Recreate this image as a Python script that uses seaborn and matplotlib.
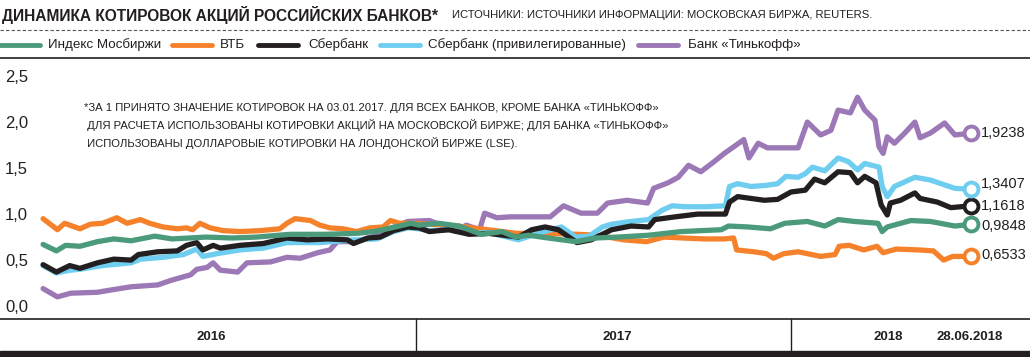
import matplotlib
matplotlib.use("Agg")
import matplotlib.pyplot as plt
import matplotlib.transforms as mtransforms
from matplotlib.lines import Line2D
from matplotlib.patches import Rectangle
import pandas as pd
import seaborn as sns

# --- data ---
mx_dates = ["2016-01-04", "2016-01-17", "2016-01-26", "2016-02-09", "2016-02-26", "2016-03-13", "2016-03-30",
            "2016-04-22", "2016-05-09", "2016-05-26", "2016-06-11", "2016-07-07", "2016-07-30", "2016-09-01",
            "2016-10-04", "2016-11-05", "2016-11-22", "2016-12-09", "2016-12-28", "2017-01-05", "2017-01-24",
            "2017-02-13", "2017-03-07", "2017-03-27", "2017-04-09", "2017-04-22", "2017-05-11", "2017-06-07",
            "2017-06-26", "2017-07-18", "2017-08-17", "2017-09-18", "2017-10-27", "2017-11-03", "2017-11-22",
            "2017-12-14", "2017-12-28", "2018-01-19", "2018-02-05", "2018-02-18", "2018-03-06", "2018-03-29",
            "2018-04-02", "2018-04-07", "2018-04-30", "2018-05-19", "2018-06-12", "2018-06-28"]
mx = [0.68, 0.61, 0.67, 0.66, 0.71, 0.74, 0.72, 0.77, 0.74, 0.75, 0.76, 0.75, 0.76, 0.79, 0.79, 0.80, 0.82,
      0.86, 0.91, 0.89, 0.91, 0.88, 0.79, 0.82, 0.76, 0.78, 0.75, 0.71, 0.75, 0.76, 0.78, 0.82, 0.84, 0.88,
      0.87, 0.85, 0.91, 0.93, 0.88, 0.95, 0.93, 0.91, 0.82, 0.87, 0.94, 0.93, 0.88, 0.90]

vtb_dates = ["2016-01-04", "2016-01-18", "2016-01-25", "2016-02-09", "2016-02-19", "2016-03-02", "2016-03-16",
             "2016-03-26", "2016-04-08", "2016-04-17", "2016-04-30", "2016-05-14", "2016-05-23", "2016-05-29",
             "2016-06-05", "2016-06-15", "2016-06-28", "2016-07-14", "2016-08-03", "2016-08-22", "2016-08-29",
             "2016-09-06", "2016-09-21", "2016-09-30", "2016-10-10", "2016-10-23", "2016-11-05", "2016-11-18",
             "2016-12-01", "2016-12-08", "2016-12-17", "2016-12-30", "2017-01-15", "2017-02-12", "2017-03-13",
             "2017-04-11", "2017-05-10", "2017-06-09", "2017-06-28", "2017-07-24", "2017-08-15", "2017-09-01",
             "2017-09-20", "2017-10-10", "2017-10-30", "2017-11-08", "2017-11-11", "2017-11-28", "2017-12-10",
             "2017-12-17", "2017-12-27", "2018-01-10", "2018-01-19", "2018-02-01", "2018-02-15", "2018-02-19",
             "2018-03-01", "2018-03-15", "2018-03-28", "2018-04-03", "2018-04-16", "2018-05-08", "2018-05-22",
             "2018-06-01", "2018-06-10", "2018-06-28"]
vtb = [0.96, 0.84, 0.91, 0.85, 0.90, 0.91, 0.97, 0.91, 0.95, 0.91, 0.87, 0.85, 0.86, 0.84, 0.91, 0.86, 0.83,
       0.82, 0.83, 0.85, 0.91, 0.96, 0.94, 0.89, 0.86, 0.85, 0.82, 0.86, 0.87, 0.94, 0.91, 0.91, 0.90, 0.88,
       0.84, 0.80, 0.80, 0.79, 0.78, 0.73, 0.71, 0.76, 0.75, 0.74, 0.74, 0.75, 0.62, 0.60, 0.58, 0.53, 0.58,
       0.60, 0.58, 0.55, 0.57, 0.66, 0.67, 0.62, 0.66, 0.59, 0.63, 0.62, 0.61, 0.51, 0.55, 0.55]

sber_dates = ["2016-01-04", "2016-01-17", "2016-01-30", "2016-02-09", "2016-02-26", "2016-03-13", "2016-03-30",
              "2016-04-06", "2016-04-25", "2016-05-14", "2016-05-23", "2016-06-02", "2016-06-08", "2016-06-18",
              "2016-06-25", "2016-07-14", "2016-08-06", "2016-08-29", "2016-09-18", "2016-10-08", "2016-10-27",
              "2016-11-02", "2016-11-16", "2016-11-28", "2016-12-11", "2016-12-25", "2017-01-05", "2017-01-15",
              "2017-02-03", "2017-02-23", "2017-03-14", "2017-04-12", "2017-04-25", "2017-05-08", "2017-05-21",
              "2017-06-08", "2017-06-22", "2017-07-12", "2017-07-31", "2017-08-17", "2017-08-23", "2017-09-12",
              "2017-10-04", "2017-10-31", "2017-11-04", "2017-11-12", "2017-11-25", "2017-12-08", "2017-12-21",
              "2018-01-03", "2018-01-17", "2018-01-26", "2018-02-05", "2018-02-18", "2018-03-02", "2018-03-09",
              "2018-03-16", "2018-03-27", "2018-04-01", "2018-04-07", "2018-04-10", "2018-04-20", "2018-05-04",
              "2018-05-09", "2018-05-26", "2018-06-08", "2018-06-28"]
sber = [0.46, 0.38, 0.45, 0.42, 0.48, 0.52, 0.51, 0.57, 0.60, 0.61, 0.67, 0.70, 0.62, 0.67, 0.64, 0.67, 0.69,
        0.75, 0.73, 0.74, 0.73, 0.69, 0.75, 0.76, 0.83, 0.87, 0.86, 0.82, 0.84, 0.79, 0.80, 0.76, 0.84, 0.87,
        0.84, 0.70, 0.73, 0.84, 0.88, 0.87, 0.95, 0.98, 1.01, 1.01, 1.14, 1.20, 1.18, 1.16, 1.17, 1.25, 1.27,
        1.39, 1.35, 1.47, 1.46, 1.35, 1.42, 1.35, 1.11, 1.00, 1.13, 1.16, 1.24, 1.18, 1.14, 1.08, 1.10]

pref_dates = ["2016-01-04", "2016-01-17", "2016-01-30", "2016-02-09", "2016-03-02", "2016-03-30", "2016-04-08",
              "2016-04-30", "2016-05-20", "2016-06-02", "2016-06-08", "2016-06-22", "2016-07-14", "2016-08-06",
              "2016-08-29", "2016-09-30", "2016-11-02", "2016-11-25", "2016-12-11", "2016-12-25", "2017-01-05",
              "2017-01-15", "2017-02-03", "2017-02-23", "2017-03-14", "2017-04-12", "2017-05-01", "2017-05-24",
              "2017-06-07", "2017-06-20", "2017-07-03", "2017-07-12", "2017-07-31", "2017-08-17", "2017-08-30",
              "2017-09-09", "2017-09-22", "2017-10-12", "2017-10-31", "2017-11-04", "2017-11-12", "2017-11-25",
              "2017-12-08", "2017-12-21", "2017-12-29", "2018-01-10", "2018-01-17", "2018-01-24", "2018-02-05",
              "2018-02-18", "2018-02-28", "2018-03-09", "2018-03-16", "2018-03-30", "2018-04-02", "2018-04-07",
              "2018-04-14", "2018-05-04", "2018-05-19", "2018-06-12", "2018-06-28"]
pref = [0.45, 0.37, 0.40, 0.41, 0.45, 0.48, 0.52, 0.54, 0.57, 0.63, 0.55, 0.58, 0.62, 0.64, 0.70, 0.70, 0.73,
        0.74, 0.82, 0.86, 0.85, 0.83, 0.84, 0.80, 0.81, 0.73, 0.80, 0.87, 0.76, 0.77, 0.87, 0.90, 0.93, 0.95,
        1.05, 1.10, 1.09, 1.09, 1.10, 1.31, 1.34, 1.31, 1.32, 1.34, 1.42, 1.41, 1.45, 1.52, 1.48, 1.62, 1.58,
        1.49, 1.56, 1.52, 1.31, 1.20, 1.31, 1.41, 1.38, 1.29, 1.28]

tcs_dates = ["2016-01-04", "2016-01-18", "2016-01-31", "2016-02-26", "2016-03-13", "2016-03-30", "2016-04-25",
             "2016-05-08", "2016-05-27", "2016-06-02", "2016-06-12", "2016-06-18", "2016-06-25", "2016-07-12",
             "2016-07-21", "2016-08-13", "2016-08-29", "2016-09-11", "2016-09-28", "2016-10-10", "2016-10-17",
             "2016-11-02", "2016-11-18", "2016-12-05", "2016-12-25", "2017-01-15", "2017-01-27", "2017-02-10",
             "2017-02-20", "2017-03-05", "2017-03-10", "2017-03-22", "2017-04-04", "2017-05-13", "2017-05-26",
             "2017-06-12", "2017-06-28", "2017-07-08", "2017-07-27", "2017-08-16", "2017-08-22", "2017-09-05",
             "2017-09-15", "2017-09-25", "2017-10-07", "2017-10-20", "2017-10-30", "2017-11-08", "2017-11-18",
             "2017-11-23", "2017-12-02", "2017-12-11", "2017-12-24", "2018-01-10", "2018-01-19", "2018-02-01",
             "2018-02-11", "2018-02-18", "2018-03-02", "2018-03-09", "2018-03-16", "2018-03-26", "2018-03-30",
             "2018-04-03", "2018-04-07", "2018-04-14", "2018-04-24", "2018-05-04", "2018-05-09", "2018-05-19",
             "2018-06-02", "2018-06-12", "2018-06-28"]
tcs = [0.20, 0.11, 0.15, 0.16, 0.19, 0.22, 0.24, 0.29, 0.35, 0.41, 0.43, 0.48, 0.40, 0.38, 0.48, 0.49, 0.54,
       0.53, 0.59, 0.62, 0.71, 0.71, 0.75, 0.84, 0.93, 0.94, 0.89, 0.82, 0.89, 0.84, 1.02, 0.97, 0.98, 0.98,
       1.10, 1.02, 1.02, 1.13, 1.16, 1.13, 1.29, 1.35, 1.41, 1.54, 1.47, 1.58, 1.67, 1.74, 1.82, 1.62, 1.78,
       1.73, 1.73, 1.73, 2.01, 1.87, 1.92, 2.14, 2.11, 2.28, 2.14, 2.03, 1.74, 1.67, 1.85, 1.78, 1.89, 2.01,
       1.84, 1.89, 2.00, 1.87, 1.89]

names = ["Индекс Мосбиржи", "ВТБ", "Сбербанк", "Сбербанк (привилегированные)", "Банк «Тинькофф»"]
colors = ["#4a9a7b", "#f5822a", "#231f20", "#6fcdf0", "#9c78b6"]
end_labels = ["0,9848", "0,6533", "1,1618", "1,3407", "1,9238"]
label_shift = [-0.02, 0.02, 0.0, 0.06, 0.0]
ytick_vals = [0.0, 0.5, 1.0, 1.5, 2.0, 2.5]
ytick_labels = ["0,0", "0,5", "1,0", "1,5", "2,0", "2,5"]
year_labels = ["2016", "2017", "2018", "28.06.2018"]

title = "ДИНАМИКА КОТИРОВОК АКЦИЙ РОССИЙСКИХ БАНКОВ*"
source = "ИСТОЧНИКИ: ИСТОЧНИКИ ИНФОРМАЦИИ: МОСКОВСКАЯ БИРЖА, REUTERS."
note = ["*ЗА 1 ПРИНЯТО ЗНАЧЕНИЕ КОТИРОВОК НА 03.01.2017. ДЛЯ ВСЕХ БАНКОВ, КРОМЕ БАНКА «ТИНЬКОФФ»",
        " ДЛЯ РАСЧЕТА ИСПОЛЬЗОВАНЫ КОТИРОВКИ АКЦИЙ НА МОСКОВСКОЙ БИРЖЕ; ДЛЯ БАНКА «ТИНЬКОФФ»",
        " ИСПОЛЬЗОВАНЫ ДОЛЛАРОВЫЕ КОТИРОВКИ НА ЛОНДОНСКОЙ БИРЖЕ (LSE)."]

series = [(mx_dates, mx), (vtb_dates, vtb), (sber_dates, sber), (pref_dates, pref), (tcs_dates, tcs)]
frames = []
for name, (d, v) in zip(names, series):
    frames.append(pd.DataFrame({"date": pd.to_datetime(d), "value": v, "series": name}))
df = pd.concat(frames, ignore_index=True)

sns.set_style("white")
plt.rcParams["font.family"] = ["Liberation Sans Narrow", "Liberation Sans", "DejaVu Sans"]
TXT = "#231f20"

W, H = 1030, 357
fig = plt.figure(figsize=(W / 100, H / 100), dpi=100)
fx = lambda px: px / W
fy = lambda py: 1 - py / H

ax = fig.add_axes([0, fy(319), 1, (319 - 60) / H])
draw_order = [names[4], names[1], names[3], names[2], names[0]]
palette = dict(zip(names, colors))
sns.lineplot(data=df, x="date", y="value", hue="series", hue_order=draw_order, palette=palette,
             linewidth=3.8, estimator=None, sort=False, legend=False, ax=ax)

# x scale: 2016-01-01 at x=40px
ppd = 1.0245
x0 = pd.Timestamp("2016-01-01") - pd.Timedelta(days=40 / ppd)
ax.set_xlim(x0, x0 + pd.Timedelta(days=W / ppd))
ax.set_ylim((307 - 319) / 92, (307 - 60) / 92)
ax.axis("off")

tr = mtransforms.blended_transform_factory(ax.transAxes, ax.transData)
for v, lab in zip(ytick_vals, ytick_labels):
    ax.text(fx(5), v, lab, transform=tr, ha="left", va="center", fontsize=12, color=TXT)

for name, (d, v), c, lab, sh in zip(names, series, colors, end_labels, label_shift):
    ax.plot(pd.Timestamp(d[-1]), v[-1], "o", ms=10, mfc="white", mec=c, mew=2.8, zorder=6)
    ax.text(fx(981), v[-1] + sh, lab, transform=tr, ha="left", va="center", fontsize=10.5, color=TXT)

for i, line in enumerate(note):
    fig.text(fx(84), fy(108 + 17.5 * i), line, ha="left", va="center", fontsize=8.15, color=TXT)

# header
fig.text(fx(2), fy(15), title, ha="left", va="center", fontsize=11.2, fontweight="bold", color=TXT)
fig.text(fx(452), fy(15), source, ha="left", va="center", fontsize=8.1, color=TXT)
fig.add_artist(Line2D([0, 1], [fy(30), fy(30)], color="#555555", lw=0.8, ls=(0, (3, 2))))
fig.add_artist(Line2D([0, 1], [fy(58), fy(58)], color=TXT, lw=1.2))

leg_pos = [(0, 48), (172, 220), (258, 308), (380, 428), (638, 688)]
for (hx, tx), name, c in zip(leg_pos, names, colors):
    fig.add_artist(Line2D([fx(hx), fx(hx + 40)], [fy(45), fy(45)], color=c, lw=3.5))
    fig.text(fx(tx), fy(45), name, ha="left", va="center", fontsize=9.6, color=TXT)

# date band
fig.add_artist(Line2D([0, 1], [fy(319), fy(319)], color=TXT, lw=1.2))
for sx in [416, 791]:
    fig.add_artist(Line2D([fx(sx), fx(sx)], [fy(319), fy(351)], color=TXT, lw=1))
fig.add_artist(Rectangle((0, 0), 1, (357 - 351) / H, transform=fig.transFigure, color=TXT))
for px, lab in zip([211, 617, 888, 970], year_labels):
    fig.text(fx(px), fy(337), lab, ha="center", va="center", fontsize=9.5, fontweight="bold", color=TXT)

fig.savefig("out.png", dpi=100)
